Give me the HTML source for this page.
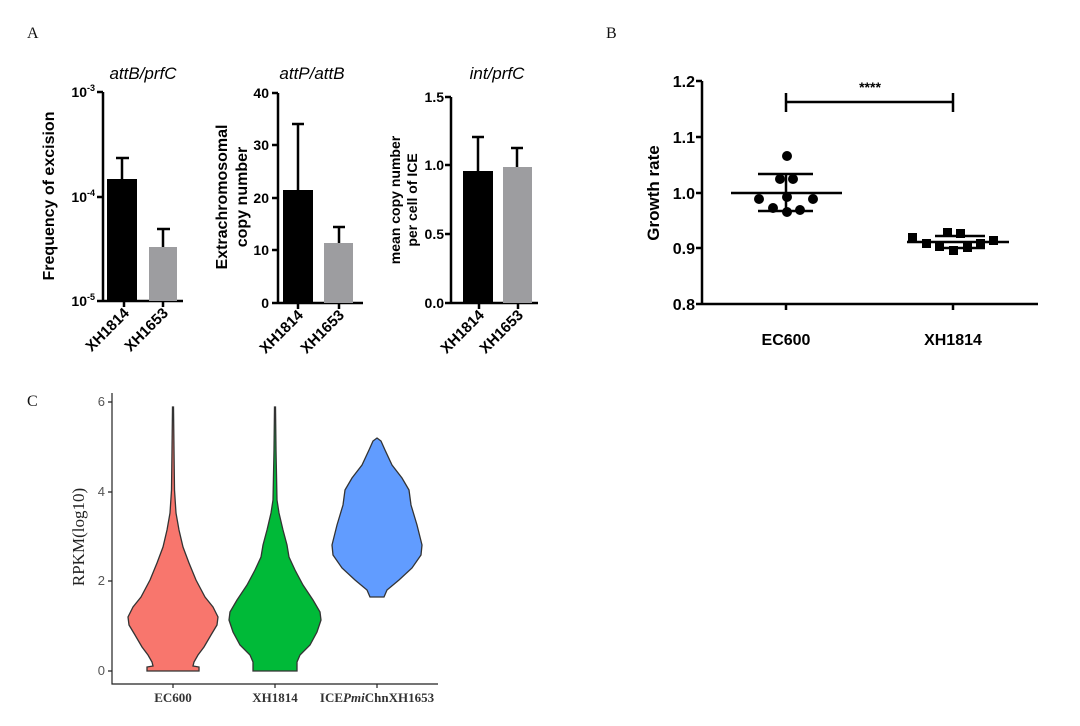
<!DOCTYPE html>
<html><head><meta charset="utf-8"><style>
html,body{margin:0;padding:0;background:#fff;}
svg{display:block;}
.b{font-family:"Liberation Sans",Arial,sans-serif;font-weight:bold;}
.s{font-family:"Liberation Serif",serif;}
</style></head><body>
<svg width="1080" height="726" viewBox="0 0 1080 726" xmlns="http://www.w3.org/2000/svg">
<g class="s" font-size="16" fill="#111">
<text x="27" y="38">A</text><text x="606" y="38">B</text><text x="27" y="406">C</text>
</g>
<!-- A1 -->
<g stroke="#000" stroke-width="2.5" fill="none">
<path d="M103 92 H97 M103 92 V301 H183 M97 197 H103 M97 301 H103 M124 301 V307 M163 301 V307"/>
<path d="M122 179 V158 M116 158 H129 M163 247 V229 M157 229 H170"/>
</g>
<rect x="107" y="179" width="30" height="122" fill="#000"/>
<rect x="149" y="247" width="28" height="54" fill="#9d9da0"/>
<g class="b" font-size="14" text-anchor="end">
<text x="95" y="97">10<tspan font-size="9" dy="-6">-3</tspan></text>
<text x="95" y="202">10<tspan font-size="9" dy="-6">-4</tspan></text>
<text x="95" y="306">10<tspan font-size="9" dy="-6">-5</tspan></text>
</g>
<g class="b" font-size="15" text-anchor="end">
<text transform="translate(130,314) rotate(-45)">XH1814</text>
<text transform="translate(169,314) rotate(-45)">XH1653</text>
</g>
<text class="b" font-size="16" text-anchor="middle" transform="translate(54,196) rotate(-90)">Frequency of excision</text>
<text x="143" y="79" font-family="Liberation Sans,sans-serif" font-style="italic" font-size="17" text-anchor="middle">attB/prfC</text>
<!-- A2 -->
<g stroke="#000" stroke-width="2.5" fill="none">
<path d="M278 93 H272 M278 93 V303 H363 M272 145 H278 M272 198 H278 M272 250 H278 M272 303 H278 M298 303 V309 M339 303 V309"/>
<path d="M298 190 V124 M292 124 H304 M339 243 V227 M333 227 H345"/>
</g>
<rect x="283" y="190" width="30" height="113" fill="#000"/>
<rect x="324" y="243" width="29" height="60" fill="#9d9da0"/>
<g class="b" font-size="14" text-anchor="end">
<text x="269" y="98">40</text><text x="269" y="150">30</text><text x="269" y="203">20</text><text x="269" y="255">10</text><text x="269" y="308">0</text>
</g>
<g class="b" font-size="15" text-anchor="end">
<text transform="translate(304,316) rotate(-45)">XH1814</text>
<text transform="translate(345,316) rotate(-45)">XH1653</text>
</g>
<g class="b" font-size="16" text-anchor="middle">
<text transform="translate(227,197) rotate(-90)">Extrachromosomal</text>
<text transform="translate(247,197) rotate(-90)">copy number</text>
</g>
<text x="312" y="79" font-family="Liberation Sans,sans-serif" font-style="italic" font-size="17" text-anchor="middle">attP/attB</text>
<!-- A3 -->
<g stroke="#000" stroke-width="2.5" fill="none">
<path d="M451 97 H445 M451 97 V303 H538 M445 165 H451 M445 234 H451 M445 303 H451 M479 303 V309 M518 303 V309"/>
<path d="M478 171 V137 M472 137 H484 M517 167 V148 M511 148 H523"/>
</g>
<rect x="463" y="171" width="30" height="132" fill="#000"/>
<rect x="503" y="167" width="29" height="136" fill="#9d9da0"/>
<g class="b" font-size="14" text-anchor="end">
<text x="444" y="102">1.5</text><text x="444" y="170">1.0</text><text x="444" y="239">0.5</text><text x="444" y="308">0.0</text>
</g>
<g class="b" font-size="15" text-anchor="end">
<text transform="translate(485,316) rotate(-45)">XH1814</text>
<text transform="translate(524,316) rotate(-45)">XH1653</text>
</g>
<g class="b" font-size="14" text-anchor="middle">
<text transform="translate(400,200) rotate(-90)">mean copy number</text>
<text transform="translate(417,200) rotate(-90)">per cell of ICE</text>
</g>
<text x="497" y="79" font-family="Liberation Sans,sans-serif" font-style="italic" font-size="17" text-anchor="middle">int/prfC</text>
<!-- B -->
<g stroke="#000" stroke-width="2.5" fill="none">
<path d="M702 81 V304 H1038 M696 81 H702 M696 137 H702 M696 193 H702 M696 248 H702 M696 304 H702 M786 304 V310 M953 304 V310"/>
<path d="M786 102 H953 M786 93 V112 M953 93 V112"/>
<path d="M731 193 H842 M758 174 H813 M758 211 H813 M786 174 V211 M907 242 H1009 M935 236 H985 M935 248 H985"/>
</g>
<g fill="#000">
<circle cx="787" cy="156" r="5"/><circle cx="780" cy="179" r="5"/><circle cx="793" cy="179" r="5"/>
<circle cx="759" cy="199" r="5"/><circle cx="787" cy="197" r="5"/><circle cx="813" cy="199" r="5"/>
<circle cx="773" cy="208" r="5"/><circle cx="787" cy="212" r="5"/><circle cx="800" cy="210" r="5"/>
<rect x="908" y="233" width="9" height="9"/><rect x="943" y="228" width="9" height="9"/><rect x="956" y="229" width="9" height="9"/>
<rect x="989" y="236" width="9" height="9"/><rect x="922" y="239" width="9" height="9"/><rect x="935" y="242" width="9" height="9"/>
<rect x="949" y="246" width="9" height="9"/><rect x="963" y="243" width="9" height="9"/><rect x="976" y="239" width="9" height="9"/>
</g>
<g class="b" font-size="16" text-anchor="end">
<text x="695" y="87">1.2</text><text x="695" y="143">1.1</text><text x="695" y="199">1.0</text><text x="695" y="254">0.9</text><text x="695" y="310">0.8</text>
</g>
<g class="b" font-size="16" text-anchor="middle">
<text x="786" y="345">EC600</text><text x="953" y="345">XH1814</text>
<text transform="translate(659,193) rotate(-90)" font-size="17">Growth rate</text>
<text x="870" y="92" font-size="14">****</text>
</g>
<!-- C -->
<g stroke="#222" stroke-width="1.2" fill="none">
<path d="M112 393 V684 H438 M108 402 H112 M108 492 H112 M108 581 H112 M108 671 H112 M173 684 V688 M275 684 V688 M377 684 V688"/>
</g>
<g font-family="Liberation Sans,sans-serif" font-size="13" fill="#555" text-anchor="end">
<text x="105" y="406">6</text><text x="105" y="496">4</text><text x="105" y="585">2</text><text x="105" y="675">0</text>
</g>
<g stroke="#333" stroke-width="1.3">
<polygon fill="#F8766D" points="173.5,407 174,450 174.5,490 176,513 179,530 183,547 189,563 196,580 205,597 213,607 218,617 217,625 211,635 204,647 198,655 194,662 193,666 199,667 199,671 147,671 147,667 153,666 152,662 148,655 142,647 135,635 129,625 128,617 133,607 141,597 150,580 157,563 163,547 167,530 170,513 171.5,490 172,450 172.5,407"/>
<polygon fill="#00BA38" points="275.5,407 276,450 277,500 279,513 283,530 287,545 289,557 295,570 303,585 313,600 320,612 321,620 317,632 310,645 300,655 297,662 297,671 253,671 253,662 250,655 240,645 233,632 229,620 230,612 237,600 247,585 255,570 261,557 263,545 267,530 271,513 273,500 274,450 274.5,407"/>
<polygon fill="#619CFF" points="377,438 381,441 385,450 392,465 402,478 409,490 411,505 417,525 422,545 421,555 412,568 399,580 387,590 384,597 370,597 367,590 355,580 342,568 333,555 332,545 337,525 343,505 345,490 352,478 362,465 369,450 373,441"/>
</g>
<g class="s" font-size="13" font-weight="bold" fill="#333" text-anchor="middle">
<text x="173" y="702">EC600</text><text x="275" y="702">XH1814</text>
<text x="377" y="702">ICE<tspan font-style="italic">Pmi</tspan>ChnXH1653</text>
</g>
<text class="s" font-size="17" fill="#222" text-anchor="middle" transform="translate(84,537) rotate(-90)">RPKM(log10)</text>
</svg>
</body></html>
